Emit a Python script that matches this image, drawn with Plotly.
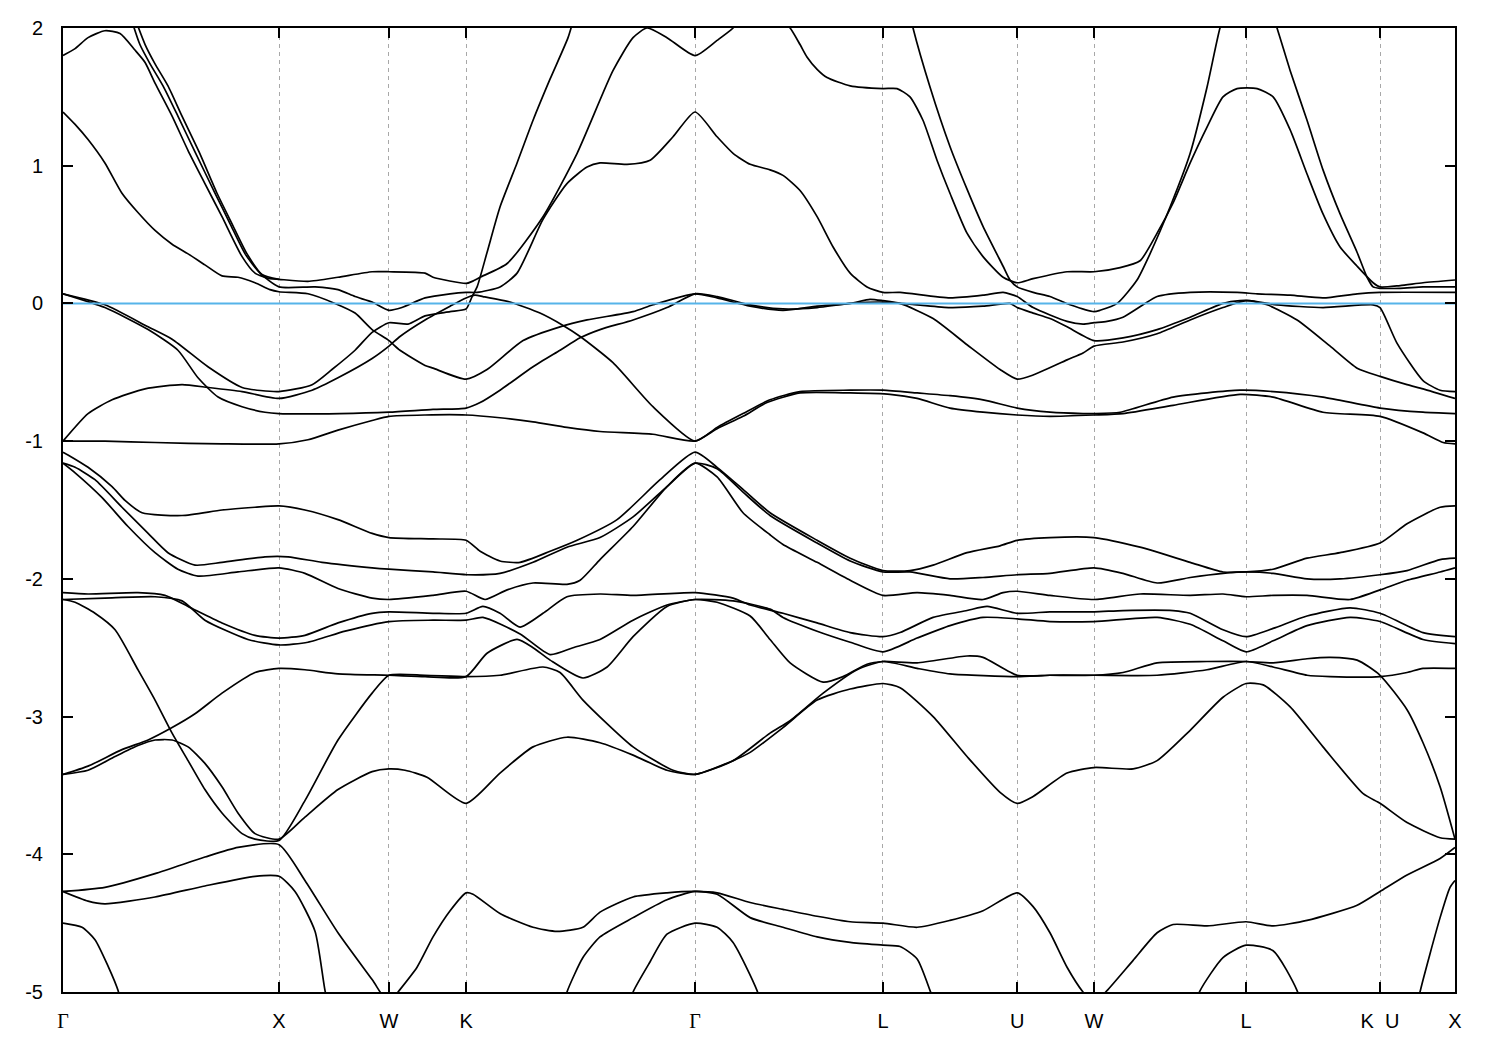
import plotly.graph_objects as go

# High-symmetry points along the k-path (K and U share the same position)
KPOS = [0.0, 1.0, 1.509, 1.866, 2.926, 3.796, 4.417, 4.773, 5.477, 6.097, 6.444]
KLAB = ["Γ", "X", "W", "K", "Γ", "L", "U", "W", "L", "K  U", "X"]
E_TICKS = [2, 1, 0, -1, -2, -3, -4, -5]
E_LABELS = ["2", "1", "0", "-1", "-2", "-3", "-4", "-5"]
E_FERMI = 0.0

b01_k = [0, 0.056, 0.116, 0.194, 0.264, 0.333, 0.380, 0.426, 0.505, 0.579, 0.657, 0.736, 0.829, 0.889, 0.958, 1.0, 1.134, 1.273, 1.431, 1.509, 1.676, 1.713, 1.866, 1.894, 1.931, 2.056, 2.222, 2.380, 2.546, 2.639, 2.704, 2.796, 2.926, 3.028, 3.102, 3.157]
b01_e = [1.80, 1.85, 1.93, 1.98, 1.96, 1.84, 1.75, 1.60, 1.36, 1.11, 0.87, 0.63, 0.34, 0.22, 0.18, 0.175, 0.16, 0.19, 0.23, 0.23, 0.22, 0.19, 0.145, 0.16, 0.19, 0.29, 0.63, 1.09, 1.69, 1.93, 2.0, 1.93, 1.80, 1.91, 2.0, 2.12]

b02_k = [3.273, 3.366, 3.412, 3.444, 3.491, 3.537, 3.644, 3.796, 3.861, 3.921, 3.981, 4.046, 4.106, 4.185, 4.259, 4.352, 4.417, 4.491, 4.648, 4.773, 4.894, 4.986, 5.065, 5.139, 5.218, 5.296, 5.370, 5.435, 5.528, 5.602, 5.681, 5.759, 5.833, 5.912, 5.991, 6.065, 6.097, 6.190, 6.296, 6.444]
b02_e = [2.15, 2.0, 1.88, 1.79, 1.70, 1.64, 1.58, 1.56, 1.56, 1.50, 1.33, 1.04, 0.80, 0.51, 0.34, 0.19, 0.15, 0.18, 0.23, 0.23, 0.26, 0.31, 0.51, 0.73, 1.02, 1.28, 1.50, 1.56, 1.56, 1.50, 1.26, 0.94, 0.65, 0.41, 0.27, 0.15, 0.12, 0.13, 0.15, 0.17]

b03_k = [0.319, 0.356, 0.403, 0.463, 0.532, 0.611, 0.704, 0.773, 0.843, 0.912, 1.0, 1.167, 1.273, 1.352, 1.431, 1.509, 1.569, 1.676, 1.792, 1.866, 1.917, 2.023, 2.102, 2.222, 2.333, 2.426, 2.486, 2.611, 2.718, 2.824, 2.926, 3.028, 3.102, 3.181, 3.273, 3.333, 3.412, 3.491, 3.565, 3.644, 3.722, 3.796, 3.875, 4.106, 4.259, 4.352, 4.417, 4.491, 4.648, 4.722, 4.773, 4.833, 4.907, 5.0, 5.065, 5.218, 5.435, 5.528, 5.681, 5.833, 5.991, 6.097, 6.444]
b03_e = [2.05, 1.88, 1.74, 1.58, 1.36, 1.10, 0.80, 0.58, 0.36, 0.22, 0.12, 0.12, 0.10, 0.05, 0.01, -0.05, -0.03, 0.04, 0.07, 0.08, 0.08, 0.12, 0.22, 0.61, 0.87, 0.99, 1.02, 1.01, 1.04, 1.21, 1.39, 1.21, 1.09, 1.01, 0.97, 0.93, 0.82, 0.63, 0.41, 0.22, 0.12, 0.08, 0.08, 0.04, 0.06, 0.08, 0.05, -0.03, -0.13, -0.15, -0.14, -0.13, -0.10, -0.01, 0.05, 0.08, 0.08, 0.07, 0.06, 0.04, 0.07, 0.08, 0.08]

b04_k = [0.338, 0.380, 0.426, 0.486, 0.551, 0.630, 0.713, 0.782, 0.852, 0.921, 1.0]
b04_e = [2.05, 1.88, 1.74, 1.58, 1.36, 1.10, 0.80, 0.58, 0.36, 0.21, 0.175]

b05_k = [0, 0.056, 0.116, 0.194, 0.273, 0.347, 0.426, 0.505, 0.579, 0.657, 0.736, 0.810, 0.889, 0.958, 1.0, 1.134, 1.259, 1.352, 1.431, 1.509, 1.560, 1.676, 1.713, 1.866, 1.963, 2.130, 2.301, 2.426, 2.639, 2.731, 2.926, 3.028, 3.181, 3.333, 3.491, 3.644, 3.736, 3.796, 3.875, 4.028, 4.185, 4.338, 4.417, 4.491, 4.648, 4.722, 4.773, 4.907, 5.065, 5.218, 5.370, 5.477, 5.574, 5.713, 5.866, 5.991, 6.097, 6.222, 6.296, 6.444]
b05_e = [1.39, 1.30, 1.19, 1.02, 0.80, 0.66, 0.53, 0.43, 0.36, 0.28, 0.20, 0.19, 0.15, 0.10, 0.085, 0.07, 0.0, -0.07, -0.19, -0.27, -0.34, -0.45, -0.47, -0.55, -0.48, -0.27, -0.17, -0.12, -0.06, -0.01, 0.07, 0.04, -0.02, -0.05, -0.02, 0.0, 0.03, 0.02, 0.0, -0.11, -0.30, -0.48, -0.55, -0.52, -0.41, -0.36, -0.31, -0.28, -0.22, -0.12, -0.03, 0.02, -0.01, -0.12, -0.31, -0.47, -0.53, -0.59, -0.62, -0.69]

b06_k = [0, 0.194, 0.394, 0.505, 0.671, 0.829, 1.0, 1.153, 1.245, 1.352, 1.431, 1.509, 1.597, 1.676, 1.792, 1.866, 1.894, 1.917, 1.963, 2.023, 2.102, 2.176, 2.255, 2.338, 2.370]
b06_e = [0.07, -0.01, -0.17, -0.26, -0.46, -0.61, -0.64, -0.59, -0.48, -0.34, -0.21, -0.14, -0.15, -0.09, -0.06, -0.04, 0.05, 0.12, 0.37, 0.70, 1.02, 1.33, 1.63, 1.93, 2.1]

b07_k = [0, 0.194, 0.394, 0.532, 0.625, 0.718, 0.829, 0.935, 1.0, 1.282, 1.509, 1.713, 1.866, 1.931, 2.023, 2.176, 2.301, 2.394, 2.486, 2.639, 2.796, 2.926, 3.028, 3.181, 3.333, 3.491, 3.644, 3.796, 3.954, 4.106, 4.259, 4.384, 4.417, 4.491, 4.569, 4.648, 4.773, 4.907, 5.065, 5.218, 5.370, 5.449, 5.495, 5.620, 5.833, 6.065, 6.097, 6.176, 6.296, 6.375, 6.444]
b07_e = [0.07, -0.03, -0.19, -0.34, -0.54, -0.68, -0.75, -0.79, -0.80, -0.80, -0.79, -0.77, -0.76, -0.72, -0.63, -0.46, -0.34, -0.25, -0.19, -0.12, -0.03, 0.07, 0.05, -0.01, -0.04, -0.03, 0.0, 0.01, -0.01, -0.03, -0.02, 0.0, -0.03, -0.07, -0.11, -0.17, -0.27, -0.25, -0.19, -0.10, 0.0, 0.02, 0.02, -0.01, -0.03, -0.01, -0.03, -0.29, -0.56, -0.63, -0.64]

b08_k = [0, 0.116, 0.227, 0.380, 0.551, 0.671, 0.829, 1.0, 1.153, 1.273, 1.431, 1.509, 1.560, 1.676, 1.792, 1.866, 1.907, 1.944, 2.069, 2.208, 2.315, 2.394, 2.546, 2.731, 2.926, 3.028, 3.148, 3.273, 3.412, 3.644, 3.796, 3.954, 4.106, 4.259, 4.417, 4.569, 4.722, 4.773, 4.894, 5.139, 5.449, 5.602, 5.833, 6.097, 6.296, 6.444]
b08_e = [-1.0, -0.80, -0.70, -0.62, -0.59, -0.61, -0.64, -0.69, -0.63, -0.54, -0.40, -0.31, -0.24, -0.12, -0.02, 0.04, 0.06, 0.05, 0.01, -0.07, -0.16, -0.24, -0.43, -0.75, -1.0, -0.90, -0.80, -0.70, -0.64, -0.63, -0.63, -0.65, -0.67, -0.70, -0.76, -0.79, -0.80, -0.80, -0.79, -0.68, -0.63, -0.64, -0.68, -0.76, -0.79, -0.80]

b09_k = [0, 0.194, 0.426, 0.736, 1.0, 1.134, 1.273, 1.431, 1.509, 1.676, 1.866, 2.023, 2.176, 2.333, 2.486, 2.731, 2.926, 3.028, 3.148, 3.259, 3.412, 3.644, 3.829, 3.954, 4.106, 4.259, 4.417, 4.569, 4.773, 4.907, 5.139, 5.449, 5.602, 5.833, 6.097, 6.296, 6.389, 6.444]
b09_e = [-1.0, -1.0, -1.01, -1.02, -1.02, -0.99, -0.92, -0.85, -0.82, -0.81, -0.81, -0.83, -0.86, -0.90, -0.93, -0.95, -1.0, -0.91, -0.82, -0.72, -0.65, -0.65, -0.66, -0.69, -0.76, -0.79, -0.81, -0.82, -0.81, -0.80, -0.74, -0.66, -0.68, -0.79, -0.82, -0.94, -1.01, -1.02]

b10_k = [0, 0.023, 0.116, 0.227, 0.287, 0.366, 0.551, 0.736, 0.889, 1.0, 1.120, 1.273, 1.431, 1.509, 1.713, 1.866, 1.931, 2.023, 2.116, 2.255, 2.380, 2.565, 2.764, 2.926, 3.028, 3.148, 3.273, 3.491, 3.644, 3.796, 3.921, 4.028, 4.185, 4.338, 4.417, 4.569, 4.773, 4.986, 5.218, 5.370, 5.477, 5.602, 5.759, 5.912, 6.097, 6.222, 6.375, 6.444]
b10_e = [-1.08, -1.10, -1.19, -1.33, -1.43, -1.52, -1.54, -1.50, -1.48, -1.47, -1.50, -1.57, -1.67, -1.70, -1.71, -1.72, -1.80, -1.87, -1.88, -1.80, -1.72, -1.57, -1.28, -1.08, -1.19, -1.35, -1.52, -1.72, -1.85, -1.94, -1.94, -1.90, -1.81, -1.76, -1.72, -1.70, -1.70, -1.77, -1.88, -1.95, -1.95, -1.93, -1.85, -1.81, -1.74, -1.60, -1.48, -1.47]

b11_k = [0, 0.056, 0.148, 0.273, 0.394, 0.486, 0.611, 0.736, 0.935, 1.042, 1.199, 1.431, 1.509, 1.713, 1.870, 2.023, 2.176, 2.333, 2.486, 2.639, 2.796, 2.926, 3.028, 3.148, 3.273, 3.491, 3.644, 3.796, 3.921, 4.106, 4.259, 4.417, 4.569, 4.773, 4.907, 5.065, 5.218, 5.370, 5.477, 5.602, 5.759, 5.912, 6.097, 6.222, 6.375, 6.444]
b11_e = [-1.16, -1.19, -1.28, -1.48, -1.67, -1.81, -1.90, -1.88, -1.84, -1.84, -1.88, -1.92, -1.93, -1.95, -1.97, -1.96, -1.88, -1.77, -1.70, -1.55, -1.33, -1.16, -1.20, -1.37, -1.54, -1.74, -1.87, -1.95, -1.95, -2.0, -1.99, -1.97, -1.96, -1.92, -1.96, -2.03, -1.99, -1.96, -1.95, -1.96, -2.0, -2.0, -1.97, -1.94, -1.86, -1.85]

b12_k = [0, 0.056, 0.181, 0.301, 0.426, 0.532, 0.625, 0.810, 1.0, 1.120, 1.273, 1.431, 1.509, 1.713, 1.866, 1.954, 2.056, 2.176, 2.333, 2.394, 2.486, 2.639, 2.796, 2.926, 3.028, 3.148, 3.273, 3.333, 3.491, 3.644, 3.796, 3.954, 4.106, 4.259, 4.352, 4.417, 4.569, 4.773, 4.986, 5.218, 5.370, 5.477, 5.602, 5.759, 5.958, 6.097, 6.222, 6.375, 6.444]
b12_e = [-1.16, -1.23, -1.41, -1.62, -1.81, -1.93, -1.98, -1.95, -1.92, -1.96, -2.07, -2.14, -2.15, -2.12, -2.09, -2.15, -2.08, -2.03, -2.04, -2.01, -1.86, -1.62, -1.33, -1.16, -1.26, -1.52, -1.68, -1.75, -1.88, -2.01, -2.12, -2.10, -2.12, -2.15, -2.10, -2.09, -2.12, -2.15, -2.11, -2.12, -2.11, -2.13, -2.12, -2.12, -2.15, -2.08, -2.01, -1.95, -1.92]

b13_k = [0, 0.116, 0.347, 0.472, 0.579, 0.736, 0.889, 1.0, 1.120, 1.273, 1.431, 1.509, 1.713, 1.866, 1.944, 2.023, 2.116, 2.222, 2.333, 2.486, 2.639, 2.926, 3.102, 3.181, 3.333, 3.491, 3.644, 3.796, 3.875, 4.028, 4.185, 4.278, 4.417, 4.569, 4.773, 4.907, 5.139, 5.218, 5.370, 5.477, 5.602, 5.759, 5.958, 6.097, 6.296, 6.444]
b13_e = [-2.10, -2.11, -2.10, -2.12, -2.20, -2.32, -2.41, -2.43, -2.41, -2.32, -2.25, -2.24, -2.25, -2.25, -2.20, -2.25, -2.35, -2.25, -2.13, -2.11, -2.12, -2.10, -2.14, -2.19, -2.25, -2.32, -2.39, -2.42, -2.39, -2.28, -2.23, -2.20, -2.25, -2.24, -2.24, -2.23, -2.23, -2.25, -2.37, -2.42, -2.36, -2.27, -2.21, -2.25, -2.39, -2.42]

b14_k = [0, 0.194, 0.426, 0.551, 0.657, 0.856, 1.0, 1.134, 1.306, 1.509, 1.713, 1.866, 1.944, 2.116, 2.255, 2.361, 2.486, 2.639, 2.796, 2.926, 3.102, 3.273, 3.333, 3.491, 3.644, 3.796, 3.954, 4.106, 4.259, 4.417, 4.569, 4.773, 5.065, 5.218, 5.370, 5.477, 5.602, 5.759, 5.958, 6.097, 6.296, 6.444]
b14_e = [-2.15, -2.14, -2.13, -2.16, -2.30, -2.44, -2.48, -2.46, -2.38, -2.31, -2.30, -2.30, -2.28, -2.40, -2.55, -2.50, -2.44, -2.30, -2.19, -2.15, -2.16, -2.22, -2.28, -2.38, -2.46, -2.53, -2.43, -2.34, -2.28, -2.29, -2.31, -2.31, -2.28, -2.33, -2.45, -2.53, -2.45, -2.34, -2.28, -2.31, -2.44, -2.47]

b15_k = [0, 0.056, 0.148, 0.241, 0.347, 0.426, 0.505, 0.579, 0.657, 0.736, 0.829, 0.889, 1.0, 1.120, 1.273, 1.431, 1.509, 1.676, 1.866, 2.023, 2.222, 2.301, 2.407, 2.639, 2.824, 2.926, 3.102, 3.273, 3.366, 3.519, 3.676, 3.796, 3.954, 4.106, 4.417, 4.569, 4.773, 5.065, 5.296, 5.477, 5.602, 5.759, 5.866, 6.097, 6.222, 6.296, 6.444]
b15_e = [-2.15, -2.17, -2.25, -2.37, -2.66, -2.88, -3.12, -3.32, -3.53, -3.70, -3.85, -3.89, -3.90, -3.61, -3.17, -2.83, -2.70, -2.70, -2.71, -2.70, -2.64, -2.68, -2.88, -3.22, -3.39, -3.42, -3.32, -3.12, -3.03, -2.83, -2.66, -2.60, -2.65, -2.69, -2.71, -2.70, -2.70, -2.70, -2.66, -2.60, -2.64, -2.70, -2.71, -2.71, -2.68, -2.65, -2.65]

b16_k = [0, 0.116, 0.273, 0.394, 0.505, 0.611, 0.736, 0.889, 1.0, 1.120, 1.273, 1.509, 1.676, 1.866, 1.963, 2.102, 2.176, 2.255, 2.407, 2.519, 2.639, 2.796, 2.926, 3.028, 3.181, 3.273, 3.366, 3.519, 3.611, 3.722, 3.796, 3.954, 4.185, 4.259, 4.417, 4.569, 4.773, 4.907, 5.065, 5.296, 5.477, 5.602, 5.759, 5.866, 5.991, 6.097, 6.222, 6.296, 6.375, 6.444]
b16_e = [-3.42, -3.36, -3.24, -3.17, -3.08, -2.98, -2.83, -2.68, -2.65, -2.66, -2.69, -2.70, -2.71, -2.71, -2.54, -2.44, -2.50, -2.59, -2.72, -2.64, -2.42, -2.20, -2.15, -2.17, -2.27, -2.44, -2.61, -2.75, -2.71, -2.62, -2.60, -2.61, -2.56, -2.57, -2.70, -2.70, -2.70, -2.68, -2.61, -2.60, -2.60, -2.61, -2.58, -2.57, -2.59, -2.70, -2.95, -3.19, -3.51, -3.89]

b17_k = [0, 0.116, 0.241, 0.347, 0.426, 0.505, 0.579, 0.657, 0.736, 0.810, 0.889, 1.0, 1.120, 1.273, 1.431, 1.509, 1.583, 1.685, 1.866, 2.023, 2.176, 2.333, 2.486, 2.639, 2.796, 2.926, 3.102, 3.181, 3.333, 3.491, 3.644, 3.796, 3.875, 4.028, 4.185, 4.338, 4.417, 4.491, 4.648, 4.773, 4.954, 5.065, 5.218, 5.370, 5.477, 5.556, 5.681, 5.833, 6.019, 6.097, 6.222, 6.375, 6.444]
b17_e = [-3.42, -3.39, -3.29, -3.21, -3.17, -3.17, -3.22, -3.34, -3.51, -3.70, -3.85, -3.89, -3.73, -3.53, -3.40, -3.38, -3.39, -3.44, -3.63, -3.41, -3.22, -3.15, -3.19, -3.28, -3.39, -3.42, -3.32, -3.26, -3.08, -2.88, -2.80, -2.76, -2.79, -3.0, -3.29, -3.55, -3.63, -3.58, -3.41, -3.37, -3.38, -3.32, -3.10, -2.86, -2.76, -2.77, -2.93, -3.22, -3.56, -3.63, -3.77, -3.88, -3.89]

b18_k = [0, 0.194, 0.426, 0.657, 0.810, 1.0, 1.120, 1.273, 1.431, 1.509, 1.551, 1.639, 1.713, 1.792, 1.866, 1.898, 2.023, 2.176, 2.287, 2.407, 2.486, 2.639, 2.796, 2.926, 3.028, 3.181, 3.333, 3.491, 3.644, 3.796, 3.954, 4.106, 4.259, 4.417, 4.491, 4.569, 4.648, 4.722, 4.773, 4.833, 4.954, 5.065, 5.139, 5.296, 5.477, 5.602, 5.759, 5.991, 6.097, 6.222, 6.375, 6.444]
b18_e = [-4.27, -4.24, -4.14, -4.02, -3.95, -3.93, -4.19, -4.57, -4.91, -5.08, -5.0, -4.82, -4.60, -4.41, -4.28, -4.29, -4.43, -4.53, -4.56, -4.53, -4.42, -4.31, -4.28, -4.27, -4.28, -4.35, -4.40, -4.45, -4.49, -4.50, -4.53, -4.48, -4.41, -4.28, -4.38, -4.57, -4.82, -5.0, -5.08, -4.99, -4.77, -4.57, -4.51, -4.52, -4.49, -4.52, -4.48, -4.37, -4.27, -4.15, -4.03, -3.95]

b19_k = [0, 0.116, 0.194, 0.426, 0.657, 0.889, 1.0, 1.074, 1.167, 1.213, 1.245]
b19_e = [-4.27, -4.34, -4.36, -4.31, -4.23, -4.16, -4.16, -4.27, -4.56, -4.99, -5.2]

b20_k = [0, 0.088, 0.148, 0.208, 0.255, 0.282]
b20_e = [-4.50, -4.53, -4.62, -4.81, -4.99, -5.2]

b21_k = [2.602, 2.639, 2.718, 2.796, 2.926, 3.028, 3.102, 3.213, 3.250]
b21_e = [-5.2, -5.0, -4.78, -4.58, -4.50, -4.53, -4.64, -4.99, -5.2]

b22_k = [2.301, 2.333, 2.407, 2.486, 2.639, 2.796, 2.926, 3.028, 3.181, 3.333, 3.491, 3.644, 3.796, 3.875, 3.954, 4.014, 4.060]
b22_e = [-5.2, -5.0, -4.75, -4.60, -4.46, -4.33, -4.27, -4.29, -4.46, -4.53, -4.60, -4.64, -4.66, -4.67, -4.76, -4.99, -5.2]

b23_k = [5.218, 5.264, 5.370, 5.477, 5.602, 5.713, 5.750]
b23_e = [-5.2, -4.99, -4.75, -4.66, -4.70, -4.99, -5.2]

b24_k = [6.259, 6.282, 6.375, 6.421, 6.444]
b24_e = [-5.2, -5.0, -4.46, -4.24, -4.19]

b25_k = [3.921, 3.935, 4.014, 4.106, 4.185, 4.259, 4.352, 4.384, 4.417, 4.491, 4.569, 4.662, 4.773, 4.801, 4.880, 4.972, 5.032, 5.125, 5.218, 5.296, 5.356, 5.380]
b25_e = [2.1, 2.0, 1.57, 1.14, 0.83, 0.56, 0.27, 0.17, 0.12, 0.08, 0.05, -0.01, -0.06, -0.05, 0.0, 0.17, 0.36, 0.70, 1.09, 1.57, 2.0, 2.1]

b26_k = [5.597, 5.620, 5.681, 5.759, 5.833, 5.912, 5.991, 6.037, 6.065, 6.097, 6.190, 6.296, 6.444]
b26_e = [2.1, 2.0, 1.69, 1.33, 0.97, 0.65, 0.37, 0.19, 0.12, 0.11, 0.11, 0.12, 0.12]

BANDS = [
    (b01_k, b01_e), (b02_k, b02_e), (b03_k, b03_e), (b04_k, b04_e), (b05_k, b05_e),
    (b06_k, b06_e), (b07_k, b07_e), (b08_k, b08_e), (b09_k, b09_e), (b10_k, b10_e),
    (b11_k, b11_e), (b12_k, b12_e), (b13_k, b13_e), (b14_k, b14_e), (b15_k, b15_e),
    (b16_k, b16_e), (b17_k, b17_e), (b18_k, b18_e), (b19_k, b19_e), (b20_k, b20_e),
    (b21_k, b21_e), (b22_k, b22_e), (b23_k, b23_e), (b24_k, b24_e), (b25_k, b25_e),
    (b26_k, b26_e),
]

fig = go.Figure()
for k, e in BANDS:
    fig.add_trace(go.Scatter(
        x=k, y=e, mode="lines",
        line=dict(color="black", width=1.7, shape="spline", smoothing=0.6),
        showlegend=False, hoverinfo="skip",
    ))

fig.add_trace(go.Scatter(
    x=[KPOS[0], KPOS[-1]], y=[E_FERMI, E_FERMI], mode="lines",
    line=dict(color="#56B4E9", width=2), showlegend=False, hoverinfo="skip",
))

tick_text = [('<span style="font-family:\'Liberation Serif\', \'DejaVu Serif\', serif">Γ</span>' if t == "Γ" else t) for t in KLAB]

fig.update_layout(
    width=1500, height=1050,
    margin=dict(l=63, r=45, t=28, b=58),
    paper_bgcolor="white", plot_bgcolor="white",
    font=dict(family="Liberation Sans, Arial, sans-serif", size=20, color="black"),
    xaxis=dict(
        range=[KPOS[0], KPOS[-1]], tickmode="array", tickvals=KPOS, ticktext=tick_text,
        tickangle=0,
        showgrid=True, gridcolor="#a8a8a8", gridwidth=1, griddash="4px,4px",
        showline=True, linecolor="black", linewidth=2, mirror="ticks",
        ticks="inside", ticklen=10, tickwidth=2, tickcolor="black",
        zeroline=False, ticklabelstandoff=10,
    ),
    yaxis=dict(
        range=[-5, 2], tickmode="array", tickvals=E_TICKS, ticktext=E_LABELS,
        showgrid=False, showline=True, linecolor="black", linewidth=2, mirror="ticks",
        ticks="inside", ticklen=10, tickwidth=2, tickcolor="black",
        zeroline=False, ticklabelstandoff=14,
    ),
)

fig.write_html("out.html", config={"displayModeBar": False},
               post_script="document.body.style.margin='0';")
